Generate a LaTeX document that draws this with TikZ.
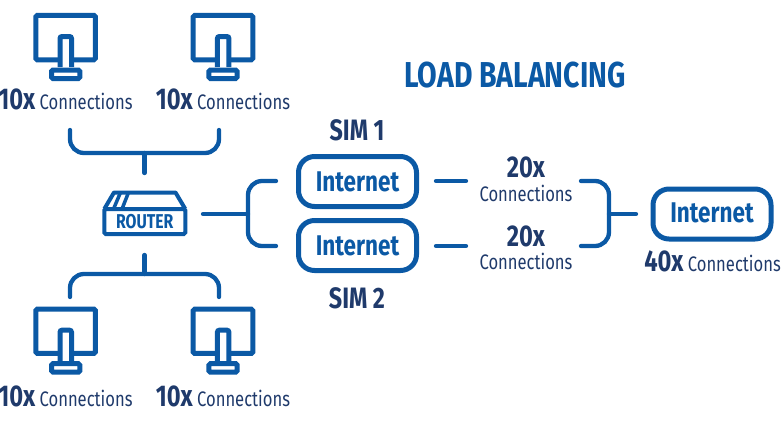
\documentclass[tikz,border=0pt]{standalone}
\usepackage{fontspec}
\setmainfont[FakeStretch=.79]{Fira Sans}
\usepackage{tikz}
\definecolor{lineblue}{HTML}{0B59A5}
\definecolor{textblue}{HTML}{1F3A6B}
\newcommand{\fs}[1]{\fontsize{#1}{#1}\selectfont}
\tikzset{
    every node/.style={inner sep=0pt, outer sep=0pt, text=textblue, font=\fs{21}},
    link/.style={draw=lineblue, line width=4.3pt, line cap=round},
    bracket/.style={link, rounded corners=14pt},
    netbox/.style={draw=lineblue, line width=5pt, rounded corners=16pt, minimum width=118pt,
    	minimum height=50pt, text=lineblue, font=\fs{28.5}\bfseries},
    screen/.style={draw=lineblue, line width=5pt, rounded corners=1.5pt, minimum width=59.7pt,
    	minimum height=44.3pt},
    big/.style={font=\fs{30}\bfseries}
}
\newcommand{\monitor}[3]{
	\begin{scope}[shift={(#2,#3)}]
		\node (#1) [screen] at (0,0) {};
		\draw [lineblue, line width=5pt, fill=white, rounded corners=2pt] (-5.6,29.5) -- (-5.6,-1.1) -- (5.9,-1.1) -- (5.9,29.5);
		\draw [lineblue, line width=5pt, fill=white, rounded corners=1.5pt] (-14.1,40.9) -- (-14.1,32.4) -- (14.2,32.4) -- (14.2,40.9) -- cycle;
	\end{scope}
}
\newcommand{\conn}[1]{{\bfseries\fs{30}#1} Connections}

\begin{document}
\begin{tikzpicture}[x=1pt, y=-1pt]
	\useasboundingbox (0,0) rectangle (781,421);

	\monitor{pc1}{65.6}{37.6}
	\monitor{pc2}{223}{37.6}
	\monitor{pc3}{65.6}{331.3}
	\monitor{pc4}{223}{331.3}

	\node (l1) at (65.5,99) {\conn{10x}};
	\node (l2) at (223,99) {\conn{10x}};
	\node (l3) at (65.5,396) {\conn{10x}};
	\node (l4) at (223,396) {\conn{10x}};

	\node (title) [text=lineblue, font=\fs{36}\bfseries] at (515,75) {LOAD BALANCING};
	\node (sim1) [font=\fs{29.5}\bfseries] at (357,130) {SIM 1};
	\node (sim2) [font=\fs{29.5}\bfseries] at (357,298) {SIM 2};

	\node (net1) [netbox] at (357.5,181.5) {Internet};
	\node (net2) [netbox] at (357.5,245.5) {Internet};
	\node (net3) [netbox] at (712,214) {\raisebox{3pt}{Internet}};

	\node (n1) [big] at (526,167) {20x};
	\node (c1) at (526,193.5) {Connections};
	\node (n2) [big] at (526,236) {20x};
	\node (c2) at (526,261.5) {Connections};
	\node (l5) at (712.5,261) {\conn{40x}};

	% router
	\node (router) [draw=lineblue, line width=4pt, rounded corners=1.5pt, minimum width=81pt, minimum height=25pt,
		text=lineblue, font=\fs{20}\bfseries] at (144.8,221.5) {ROUTER};
	\draw [lineblue, line width=4pt, line join=round] (104.3,209) -- (114,192.5) -- (175.5,192.5) -- (185.3,209);
	\draw [lineblue, line width=3.5pt] (120.5,192.5) -- (113.5,209); \draw [lineblue, line width=3.5pt] (128.5,192.5) -- (122,209);

	\coordinate (a1) at (70,130); \coordinate (a2) at (144.5,153); \coordinate (a3) at (219,130);
	\coordinate (a4) at (144.5,173);
	\coordinate (b1) at (70,297); \coordinate (b2) at (144.5,274); \coordinate (b3) at (219,297);
	\coordinate (b4) at (144.5,255);
	\coordinate (d1) at (203,214); \coordinate (d2) at (248,214);
	\coordinate (d3) at (276,181); \coordinate (d4) at (276,246);
	\coordinate (e1) at (436,181); \coordinate (e2) at (466,181);
	\coordinate (e3) at (436,246); \coordinate (e4) at (466,246);
	\coordinate (f1) at (581,181); \coordinate (f2) at (609,214); \coordinate (f3) at (581,246);
	\coordinate (f4) at (636,214);

	\draw [bracket] (a1) |- (a2) -| (a3);
	\draw [bracket] (b1) |- (b2) -| (b3);
	\draw [bracket] (d3) -| (d2) |- (d4);
	\draw [bracket] (f1) -| (f2) |- (f3);
	\draw [link] (a2) edge (a4);
	\draw [link] (b2) edge (b4);
	\draw [link] (d1) edge (d2);
	\draw [link] (e1) edge (e2);
	\draw [link] (e3) edge (e4);
	\draw [link] (f2) edge (f4);
\end{tikzpicture}
\end{document}
